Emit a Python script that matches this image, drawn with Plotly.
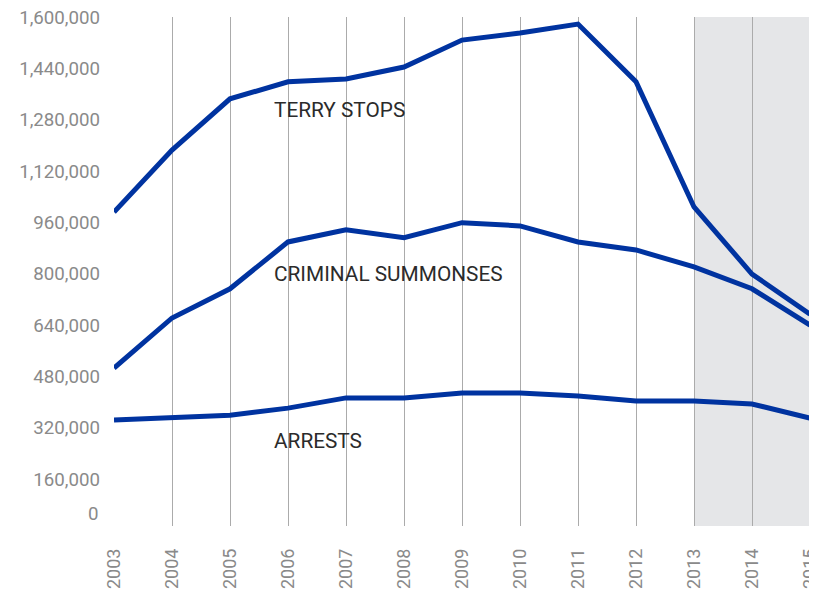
import plotly.graph_objects as go

years = list(range(2003, 2016))
terry_stops = [992000, 1185000, 1345000, 1398000, 1407000, 1444000, 1528000,
               1550000, 1578000, 1398000, 1008000, 799000, 674000]
criminal_summonses = [506000, 662000, 753000, 899000, 937000, 912000, 959000,
                      949000, 899000, 874000, 821000, 753000, 640000]
arrests = [344000, 350000, 359000, 381000, 413000, 413000, 428000,
           428000, 419000, 403000, 403000, 394000, 350000]
series_names = ["TERRY STOPS", "CRIMINAL SUMMONSES", "ARRESTS"]
y_ticks = [160000, 320000, 480000, 640000, 800000, 960000, 1120000, 1280000, 1440000, 1600000]
shade_years = [2013, 2015]

LINE = "#0033a0"
GRAY = "#8a8a8a"
FONT = "Roboto, Liberation Sans, sans-serif"

fig = go.Figure()
for vals, name in zip([terry_stops, criminal_summonses, arrests], series_names):
    fig.add_trace(go.Scatter(x=years, y=vals, mode="lines", name=name,
                             line=dict(color=LINE, width=5), showlegend=False,
                             cliponaxis=False))

fig.add_shape(type="rect", xref="x", yref="paper", x0=shade_years[0], x1=shade_years[1],
              y0=0, y1=1, fillcolor="#e5e6e8", line_width=0, layer="below")

label_pos = [(2005.72, 1310000), (2005.72, 800000), (2005.72, 280000)]
for (lx, ly), name in zip(label_pos, series_names):
    fig.add_annotation(x=lx, y=ly, text=name, showarrow=False, xanchor="left",
                       yanchor="middle", font=dict(family=FONT, size=20.8, color="#2b2b2b"))

fig.add_annotation(x=0, xref="paper", xanchor="right", y=0, yref="paper", yanchor="middle",
                   xshift=-13, yshift=12, text="0", showarrow=False,
                   font=dict(family=FONT, size=18.7, color=GRAY))

# page body has an 8px margin; figure sized to fit the 817x591 window
fig.update_layout(
    width=809, height=583,
    margin=dict(l=106.3, r=6.7, t=9, b=65, autoexpand=False),
    paper_bgcolor="white", plot_bgcolor="rgba(0,0,0,0)",
    xaxis=dict(range=[2003, 2015], tickvals=years, ticktext=[str(y) for y in years],
               tickangle=-90, showgrid=True, gridcolor="#ababab", gridwidth=1,
               zeroline=False, showline=False, ticks="", ticklabelstandoff=18,
               automargin=False, ticklabeloverflow="allow",
               tickfont=dict(family=FONT, size=18, color=GRAY)),
    yaxis=dict(range=[13700, 1600000], tickvals=y_ticks,
               ticktext=[f"{v:,}" for v in y_ticks], showgrid=False, zeroline=False,
               showline=False, ticks="", ticklabelstandoff=13, automargin=False,
               ticklabeloverflow="allow",
               tickfont=dict(family=FONT, size=18.7, color=GRAY)),
)

fig.write_html("out.html")
